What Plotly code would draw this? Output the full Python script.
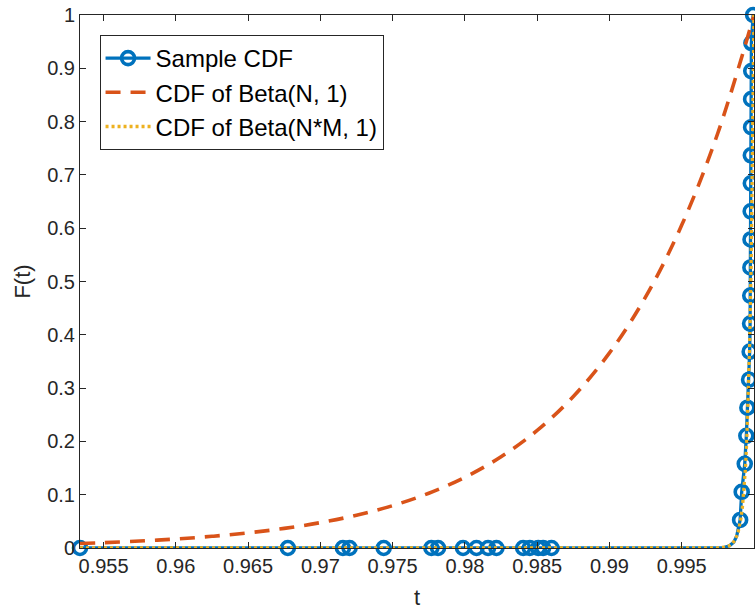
import plotly.graph_objects as go

# ---- data ----
# Sample CDF points (markers)
sample_t = [0.95337, 0.96775, 0.97156, 0.97202, 0.97438, 0.97768, 0.97814, 0.97987,
            0.98080, 0.98160, 0.98218, 0.98403, 0.98449, 0.98507, 0.98541, 0.98599,
            0.99904, 0.99915, 0.99936, 0.99947, 0.99954, 0.99966, 0.99970, 0.99973,
            0.99974, 0.99975, 0.99976, 0.99977, 0.99978, 0.99978, 0.99980, 0.99980,
            0.99981, 0.99982, 0.99994]
sample_F = [0.0, 0.0, 0.0, 0.0, 0.0, 0.0, 0.0, 0.0,
            0.0, 0.0, 0.0, 0.0, 0.0, 0.0, 0.0, 0.0,
            0.0526, 0.1053, 0.1579, 0.2105, 0.2632, 0.3158, 0.3684, 0.4211,
            0.4737, 0.5263, 0.5789, 0.6316, 0.6842, 0.7368, 0.7895, 0.8421,
            0.8947, 0.9474, 1.0]
# Unmarked points of the sample CDF line between the two groups
sample_line_extra_t = [0.99780, 0.99830, 0.99860, 0.99880]
sample_line_extra_F = [0.0, 0.004, 0.011, 0.022]

# CDF of Beta(N, 1)
beta_n_t = [0.95337, 0.955, 0.9575, 0.96, 0.9625, 0.965, 0.9675, 0.97, 0.9725, 0.975,
            0.9775, 0.98, 0.9825, 0.985, 0.9875, 0.99, 0.9925, 0.995, 0.9975, 1.0]
beta_n_F = [0.0084, 0.0100, 0.0130, 0.0169, 0.0219, 0.0284, 0.0368, 0.0476, 0.0615, 0.0795,
            0.1027, 0.1326, 0.1711, 0.2206, 0.2843, 0.3660, 0.4710, 0.6058, 0.7786, 1.0]

# CDF of Beta(N*M, 1)
beta_nm_t = [0.95337, 0.99, 0.9975, 0.998, 0.9983, 0.9985, 0.9987, 0.9989, 0.999, 0.9991,
             0.9992, 0.9993, 0.9994, 0.9995, 0.9996, 0.9997, 0.9998, 0.99985, 0.9999,
             0.99995, 1.0]
beta_nm_F = [0.0, 0.0, 0.0003, 0.0017, 0.0043, 0.0082, 0.0156, 0.0295, 0.0407, 0.0561,
             0.0772, 0.1064, 0.1465, 0.2018, 0.278, 0.383, 0.527, 0.619, 0.726,
             0.852, 1.0]

x_ticks = [0.955, 0.96, 0.965, 0.97, 0.975, 0.98, 0.985, 0.99, 0.995, 1.0]
x_tick_labels = ['0.955', '0.96', '0.965', '0.97', '0.975', '0.98', '0.985', '0.99', '0.995', '1']
y_ticks = [0, 0.1, 0.2, 0.3, 0.4, 0.5, 0.6, 0.7, 0.8, 0.9, 1.0]
y_tick_labels = ['0', '0.1', '0.2', '0.3', '0.4', '0.5', '0.6', '0.7', '0.8', '0.9', '1']

BLUE = '#0072BD'
ORANGE = '#D95319'
YELLOW = '#EDB120'
AX = '#262626'
FONT = 'Liberation Sans, Arial, Helvetica, sans-serif'
LW = 3.3

# line of the sample CDF (all points, sorted)
line_pts = sorted(zip(sample_t + sample_line_extra_t, sample_F + sample_line_extra_F))
line_t = [p[0] for p in line_pts]
line_F = [p[1] for p in line_pts]

# markers only (gaps so no connecting line), used also for legend entry
mk_t, mk_F = [], []
for t, f in zip(sample_t, sample_F):
    mk_t += [t, None]
    mk_F += [f, None]

fig = go.Figure()
fig.add_trace(go.Scatter(x=line_t, y=line_F, mode='lines',
                         line=dict(color=BLUE, width=LW), showlegend=False,
                         hoverinfo='skip', cliponaxis=False))
fig.add_trace(go.Scatter(x=mk_t, y=mk_F, mode='lines+markers', name='Sample CDF',
                         connectgaps=False,
                         line=dict(color=BLUE, width=LW),
                         marker=dict(symbol='circle-open', size=13, color=BLUE,
                                     line=dict(color=BLUE, width=3.6)),
                         cliponaxis=False))
fig.add_trace(go.Scatter(x=beta_n_t, y=beta_n_F, mode='lines', name='CDF of Beta(N, 1)',
                         line=dict(color=ORANGE, width=3.6, dash='15px,10px', shape='spline')))
fig.add_trace(go.Scatter(x=beta_nm_t, y=beta_nm_F, mode='lines', name='CDF of Beta(N*M, 1)',
                         line=dict(color=YELLOW, width=LW, dash='3px,3px'),
                         cliponaxis=False))

axis_common = dict(ticks='inside', ticklen=6, tickwidth=1, tickcolor=AX,
                   showline=True, linecolor=AX, linewidth=1, mirror='ticks',
                   showgrid=False, zeroline=False,
                   tickfont=dict(family=FONT, size=20, color=AX))

fig.update_xaxes(range=[0.95337, 1.0], tickmode='array', tickvals=x_ticks,
                 ticktext=x_tick_labels,
                 title=dict(text='t', font=dict(family=FONT, size=22, color=AX), standoff=13),
                 **axis_common)
fig.update_yaxes(range=[0, 1], tickmode='array', tickvals=y_ticks,
                 ticktext=y_tick_labels,
                 title=dict(text='F(t)', font=dict(family=FONT, size=22, color=AX), standoff=10),
                 **axis_common)

fig.update_layout(
    width=755, height=612,
    margin=dict(l=80, r=1, t=15, b=64),
    plot_bgcolor='white', paper_bgcolor='white',
    font=dict(family=FONT, color=AX),
    legend=dict(x=0.029, y=0.9625, xanchor='left', yanchor='top',
                bgcolor='white', bordercolor=AX, borderwidth=1,
                font=dict(family=FONT, size=24, color='black'),
                itemwidth=45, tracegroupgap=0),
)

fig.write_html("out.html")
